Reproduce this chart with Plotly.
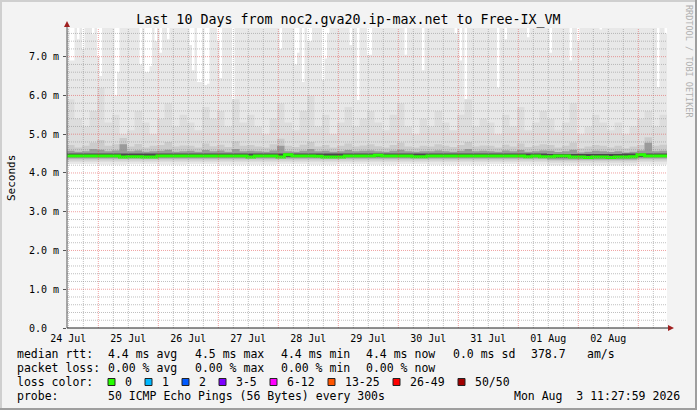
import pandas as pd
import plotly.graph_objects as go

# ---- data (rtt in ms) ----
start = pd.Timestamp("2026-07-24 11:28")
end = pd.Timestamp("2026-08-03 11:28")

# day labels (rrdtool centres them at noon)
day_labels = ["24 Jul", "25 Jul", "26 Jul", "27 Jul", "28 Jul", "29 Jul", "30 Jul", "31 Jul", "01 Aug", "02 Aug"]

# hourly max rtt, one row per day (8.0 = above the top of the graph)
max_rtt = [
    8.0, 6.9, 6.9, 8.0, 7.45, 8.0, 7.2, 8.0, 8.0, 8.0, 7.58, 8.0, 7.0, 6.5, 8.0, 8.0, 8.0, 8.0, 8.0, 6.0, 6.6, 8.0, 8.0, 8.0,
    8.0, 8.0, 8.0, 8.0, 8.0, 6.8, 8.0, 6.6, 6.6, 6.75, 8.0, 7.4, 8.0, 7.1, 8.0, 8.0, 7.45, 8.0, 8.0, 8.0, 8.0, 8.0, 8.0, 8.0,
    8.0, 7.3, 6.65, 8.0, 6.35, 6.35, 8.0, 6.27, 6.3, 8.0, 8.0, 8.0, 7.4, 6.45, 8.0, 8.0, 8.0, 8.0, 5.87, 8.0, 8.0, 8.0, 8.0, 8.0,
    8.0, 8.0, 8.0, 8.0, 8.0, 8.0, 8.0, 8.0, 8.0, 8.0, 8.0, 8.0, 8.0, 7.2, 8.0, 8.0, 8.0, 8.0, 8.0, 6.8, 7.1, 8.0, 6.35, 8.0,
    7.4, 7.4, 8.0, 8.0, 8.0, 8.0, 6.4, 6.95, 7.6, 8.0, 8.0, 8.0, 8.0, 8.0, 8.0, 8.0, 8.0, 7.3, 8.0, 8.0, 5.88, 8.0, 8.0, 8.0,
    7.05, 7.05, 8.0, 8.0, 8.0, 8.0, 8.0, 8.0, 8.0, 8.0, 8.0, 8.0, 8.0, 8.0, 8.0, 7.05, 8.0, 8.0, 8.0, 8.0, 8.0, 8.0, 6.65, 8.0,
    8.0, 8.0, 8.0, 8.0, 8.0, 8.0, 8.0, 8.0, 8.0, 8.0, 8.0, 7.6, 8.0, 6.9, 8.0, 5.9, 8.0, 8.0, 8.0, 8.0, 8.0, 8.0, 8.0, 8.0,
    8.0, 8.0, 8.0, 8.0, 6.2, 8.0, 8.0, 7.45, 8.0, 8.0, 8.0, 8.0, 8.0, 8.0, 8.0, 8.0, 7.5, 8.0, 8.0, 8.0, 8.0, 8.0, 8.0, 8.0,
    8.0, 7.1, 8.0, 8.0, 8.0, 8.0, 8.0, 8.0, 8.0, 6.9, 8.0, 8.0, 7.4, 8.0, 8.0, 8.0, 8.0, 8.0, 8.0, 8.0, 8.0, 7.7, 8.0, 8.0,
    8.0, 8.0, 8.0, 8.0, 8.0, 8.0, 8.0, 8.0, 8.0, 8.0, 8.0, 8.0, 8.0, 8.0, 8.0, 8.0, 8.0, 8.0, 8.0, 8.0, 6.22, 8.0, 8.0, 7.6,
]

# 3-hourly upper smoke levels
p90_rtt = [
    5.9, 5.4, 5.2, 5.6, 6.2, 5.3, 5.5, 5.0,
    5.1, 5.6, 5.3, 5.0, 5.4, 5.8, 5.2, 5.5,
    5.3, 5.1, 5.7, 5.4, 5.6, 5.2, 5.9, 5.3,
    5.5, 5.2, 5.0, 5.4, 5.8, 5.3, 5.1, 5.6,
    6.0, 5.2, 5.5, 5.0, 5.3, 5.7, 5.2, 5.4,
    5.6, 5.3, 5.1, 5.5, 5.8, 5.2, 5.0, 5.4,
    5.2, 5.6, 5.3, 5.1, 5.5, 5.9, 5.2, 5.4,
    5.3, 5.0, 5.5, 5.2, 5.7, 5.1, 5.3, 5.6,
    5.4, 5.1, 5.3, 5.8, 5.0, 5.2, 5.5, 5.3,
    5.1, 5.3, 5.0, 5.2, 5.4, 5.6, 5.2, 5.5,
]
p75_rtt = [
    4.72, 4.66, 4.70, 4.78, 4.85, 4.70, 4.74, 4.90,
    4.68, 4.75, 4.66, 4.70, 4.72, 4.80, 4.68, 4.71,
    4.70, 4.66, 4.76, 4.69, 4.73, 4.67, 4.82, 4.70,
    4.72, 4.68, 4.66, 4.74, 4.88, 4.70, 4.67, 4.73,
    4.80, 4.68, 4.72, 4.66, 4.70, 4.76, 4.68, 4.71,
    4.74, 4.69, 4.66, 4.72, 4.78, 4.68, 4.66, 4.70,
    4.68, 4.74, 4.70, 4.67, 4.72, 4.80, 4.68, 4.71,
    4.70, 4.66, 4.73, 4.68, 4.76, 4.67, 4.70, 4.74,
    4.72, 4.66, 4.70, 4.78, 4.64, 4.68, 4.72, 4.70,
    4.66, 4.70, 4.64, 4.68, 4.72, 4.92, 4.70, 4.73,
]
p65_rtt = [
    4.57, 4.55, 4.56, 4.62, 4.60, 4.56, 4.58, 4.74,
    4.56, 4.58, 4.55, 4.56, 4.57, 4.60, 4.55, 4.56,
    4.57, 4.55, 4.59, 4.56, 4.58, 4.55, 4.62, 4.56,
    4.57, 4.56, 4.55, 4.58, 4.70, 4.56, 4.55, 4.57,
    4.62, 4.56, 4.57, 4.55, 4.56, 4.59, 4.56, 4.57,
    4.58, 4.56, 4.55, 4.57, 4.60, 4.56, 4.55, 4.56,
    4.56, 4.58, 4.56, 4.55, 4.57, 4.62, 4.56, 4.57,
    4.56, 4.55, 4.58, 4.56, 4.59, 4.55, 4.56, 4.58,
    4.57, 4.54, 4.56, 4.60, 4.53, 4.55, 4.57, 4.56,
    4.54, 4.56, 4.53, 4.55, 4.58, 4.78, 4.56, 4.57,
]
median_rtt = [
    4.44, 4.44, 4.44, 4.44, 4.44, 4.44, 4.44, 4.41,
    4.42, 4.42, 4.41, 4.41, 4.44, 4.44, 4.44, 4.44,
    4.44, 4.44, 4.44, 4.44, 4.44, 4.44, 4.44, 4.44,
    4.41, 4.44, 4.44, 4.44, 4.41, 4.47, 4.44, 4.44,
    4.44, 4.43, 4.41, 4.41, 4.41, 4.44, 4.44, 4.44,
    4.44, 4.46, 4.44, 4.44, 4.44, 4.44, 4.42, 4.42,
    4.44, 4.44, 4.44, 4.44, 4.44, 4.44, 4.44, 4.44,
    4.44, 4.44, 4.44, 4.44, 4.44, 4.42, 4.44, 4.42,
    4.42, 4.44, 4.44, 4.41, 4.41, 4.40, 4.41, 4.41,
    4.40, 4.41, 4.41, 4.42, 4.47, 4.44, 4.44, 4.44,
]
# 6-hourly top of the darkest smoke
p55_rtt = [
    4.50, 4.50, 4.50, 4.50, 4.50, 4.50, 4.50, 4.50,
    4.50, 4.50, 4.50, 4.50, 4.50, 4.50, 4.50, 4.50,
    4.50, 4.50, 4.50, 4.50, 4.50, 4.50, 4.50, 4.50,
    4.50, 4.50, 4.50, 4.50, 4.50, 4.50, 4.50, 4.50,
    4.49, 4.49, 4.49, 4.49, 4.49, 4.50, 4.50, 4.50,
]
# 12-hourly lower smoke levels
min_rtt = [4.23, 4.22, 4.23, 4.22, 4.23, 4.22, 4.22, 4.23, 4.22, 4.23,
           4.22, 4.23, 4.22, 4.22, 4.23, 4.22, 4.20, 4.20, 4.20, 4.22]
p5_rtt = [4.28, 4.28, 4.28, 4.28, 4.28, 4.28, 4.28, 4.28, 4.28, 4.28,
          4.28, 4.28, 4.28, 4.28, 4.28, 4.28, 4.26, 4.26, 4.26, 4.28]
p15_rtt = [4.32, 4.32, 4.32, 4.32, 4.32, 4.32, 4.32, 4.32, 4.32, 4.32,
           4.32, 4.32, 4.32, 4.32, 4.32, 4.32, 4.30, 4.30, 4.30, 4.32]
p30_rtt = [4.37, 4.37, 4.37, 4.37, 4.37, 4.37, 4.37, 4.37, 4.37, 4.37,
           4.37, 4.37, 4.37, 4.37, 4.37, 4.37, 4.35, 4.35, 4.35, 4.37]
p45_rtt = [4.41, 4.41, 4.41, 4.41, 4.41, 4.41, 4.41, 4.41, 4.41, 4.41,
           4.41, 4.41, 4.41, 4.41, 4.41, 4.41, 4.39, 4.39, 4.39, 4.41]

y_ticks = [0, 1, 2, 3, 4, 5, 6, 7]
y_ticktext = ["0.0  ", "1.0 m", "2.0 m", "3.0 m", "4.0 m", "5.0 m", "6.0 m", "7.0 m"]

rtt_stats = ["4.4 ms avg", "4.5 ms max", "4.4 ms min", "4.4 ms now", "0.0 ms sd", "378.7", "am/s"]
loss_stats = ["0.00 % avg", "0.00 % max", "0.00 % min", "0.00 % now"]
loss_bins = ["0", "1", "2", "3-5", "6-12", "13-25", "26-49", "50/50"]
loss_colors = ["#26ff00", "#00b8ff", "#0059ff", "#7e00ff", "#ff00ff", "#ff5500", "#ff0000", "#a10000"]

MONO = "DejaVu Sans Mono"
W, H = 697, 410
L, R, T, B = 67, 30, 28, 82


def px(x):
    return (x - L) / (W - L - R)


def py(y):
    return (H - B - y) / (H - T - B)


def edges(hours, n):
    return pd.date_range(start, periods=n + 1, freq=f"{hours}h")


def step(vals):
    return list(vals) + [vals[-1]]


fig = go.Figure()


def band(lo, lo_h, hi, hi_h, color):
    fig.add_trace(go.Scatter(x=edges(lo_h, len(lo)), y=step(lo), mode="lines",
                             line=dict(width=0, shape="hv"), hoverinfo="skip", showlegend=False))
    fig.add_trace(go.Scatter(x=edges(hi_h, len(hi)), y=step(hi), mode="lines",
                             line=dict(width=0, shape="hv"), fill="tonexty", fillcolor=color,
                             hoverinfo="skip", showlegend=False))


band(min_rtt, 12, max_rtt, 1, "#e8e8e8")
band(p5_rtt, 12, p90_rtt, 3, "#dddddd")
band(p15_rtt, 12, p75_rtt, 3, "#cbcbcb")
band(p30_rtt, 12, p65_rtt, 3, "#9a9a9a")
band(p45_rtt, 12, p55_rtt, 6, "#4a4a4a")

fig.add_trace(go.Scatter(x=edges(3, len(median_rtt)), y=step(median_rtt), mode="lines",
                         line=dict(color="#26ff00", width=3, shape="hv"), showlegend=False))

# dotted grid on top of the smoke, like rrdtool
shapes = []
for t in pd.date_range("2026-07-24 12:00", "2026-08-03 06:00", freq="6h"):
    major = t.hour == 0
    shapes.append(dict(type="line", xref="x", yref="paper", x0=t, x1=t, y0=0, y1=1, layer="above",
                       line=dict(color="rgba(225,70,70,0.5)" if major else "rgba(140,140,140,0.55)",
                                 width=1, dash="1px,1px")))
for i in range(1, 39):
    v = i * 0.2
    major = i % 5 == 0
    shapes.append(dict(type="line", xref="paper", yref="y", x0=0, x1=1, y0=v, y1=v, layer="above",
                       line=dict(color="rgba(225,70,70,0.5)" if major else "rgba(140,140,140,0.55)",
                                 width=1, dash="1px,1px")))

# axis lines with arrows
shapes.append(dict(type="line", xref="paper", yref="paper", x0=px(67), x1=px(67), y0=py(328), y1=py(24),
                   line=dict(color="#555", width=1)))
shapes.append(dict(type="path", xref="paper", yref="paper", fillcolor="#a02020", line=dict(width=0),
                   path=f"M {px(64)} {py(27)} L {px(70)} {py(27)} L {px(67)} {py(21)} Z"))
shapes.append(dict(type="line", xref="paper", yref="paper", x0=px(67), x1=px(671), y0=py(328), y1=py(328),
                   line=dict(color="#222", width=1)))
shapes.append(dict(type="path", xref="paper", yref="paper", fillcolor="#a02020", line=dict(width=0),
                   path=f"M {px(668)} {py(325)} L {px(668)} {py(331)} L {px(674)} {py(328)} Z"))

# image frame
shapes.append(dict(type="line", xref="paper", yref="paper", x0=px(0), x1=px(697), y0=py(1), y1=py(1),
                   line=dict(color="#cfcfcf", width=2)))
shapes.append(dict(type="line", xref="paper", yref="paper", x0=px(1), x1=px(1), y0=py(0), y1=py(410),
                   line=dict(color="#cfcfcf", width=2)))
shapes.append(dict(type="line", xref="paper", yref="paper", x0=px(0), x1=px(697), y0=py(409), y1=py(409),
                   line=dict(color="#9e9e9e", width=2)))
shapes.append(dict(type="line", xref="paper", yref="paper", x0=px(696), x1=px(696), y0=py(0), y1=py(410),
                   line=dict(color="#9e9e9e", width=2)))

annotations = []


def text(x, y, s, anchor="left", size=11.5, color="#000", angle=0):
    annotations.append(dict(x=px(x), y=py(y), xref="paper", yref="paper", text=s, showarrow=False,
                            xanchor=anchor, yanchor="middle", textangle=angle, borderpad=0,
                            font=dict(family=MONO, size=size, color=color)))


# legend block
row1 = [16, 107, 194, 280, 365, 452, 530, 586]
text(row1[0], 354, "median rtt:")
for x, s in zip(row1[1:], rtt_stats):
    text(x, 354, s)
text(row1[0], 368, "packet loss:")
for x, s in zip(row1[1:], loss_stats):
    text(x, 368, s)
text(16, 382, "loss color:")
bx = [108, 145, 182, 219, 270, 328, 393, 458]
for x, s, c in zip(bx, loss_bins, loss_colors):
    shapes.append(dict(type="rect", xref="paper", yref="paper", x0=px(x), x1=px(x + 7),
                       y0=py(385.5), y1=py(378.5), fillcolor=c, line=dict(color="#222", width=1)))
    text(x + 16, 382, s)
text(16, 396, "probe:")
text(107, 396, "50 ICMP Echo Pings (56 Bytes) every 300s")
text(681, 396, "Mon Aug  3 11:27:59 2026", anchor="right")

text(11, 178, "Seconds", anchor="center", size=11, angle=-90)
text(689, 61, "RRDTOOL / TOBI OETIKER", anchor="center", size=8.5, color="#b0b0b0", angle=90)

day_ticks = pd.date_range("2026-07-24 12:00", periods=len(day_labels), freq="D")

fig.update_layout(
    width=W, height=H,
    margin=dict(l=L, r=R, t=T, b=B),
    paper_bgcolor="#f3f3f3",
    plot_bgcolor="#ffffff",
    font=dict(family=MONO, color="#000"),
    title=dict(text="Last 10 Days from noc2.gva20.ip-max.net to Free-IX_VM",
               x=0.5, xref="container", xanchor="center",
               y=1 - 19.5 / H, yref="container", yanchor="middle",
               font=dict(family=MONO, size=13.3, color="#000")),
    xaxis=dict(type="date", range=[start, end], showgrid=False, zeroline=False,
               tickvals=day_ticks, ticktext=day_labels,
               ticks="", showline=False, ticklabelstandoff=3,
               tickfont=dict(family=MONO, size=10, color="#000")),
    yaxis=dict(range=[0, 7.74], tickvals=y_ticks, ticktext=y_ticktext, showgrid=False, zeroline=False,
               ticks="outside", ticklen=3, tickcolor="#555", showline=False, ticklabelstandoff=2,
               tickfont=dict(family=MONO, size=10, color="#000")),
    shapes=shapes,
    annotations=annotations,
    showlegend=False,
)

# the page's default body margin would shift the figure by 8px
fig.write_html("out.html", config={"displayModeBar": False},
               post_script="document.body.style.margin='0';")
